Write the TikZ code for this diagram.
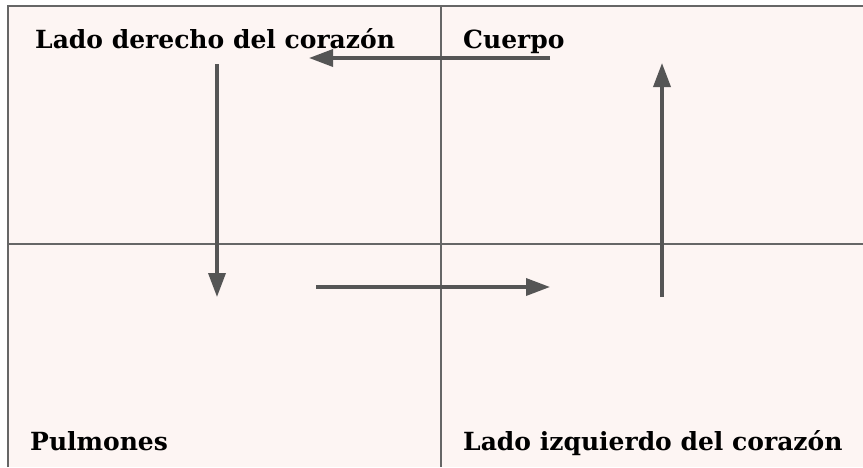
\documentclass[tikz,border=0pt]{standalone}
\usepackage{fontspec}
\setmainfont{DejaVu Serif}
\usetikzlibrary{arrows.meta}
\definecolor{bgpink}{HTML}{FDF5F3}
\definecolor{gridgray}{HTML}{666666}
\definecolor{arrowgray}{HTML}{555555}
\tikzset{
  label/.style={anchor=base west, inner sep=0pt, font=\fontsize{25}{29}\selectfont\bfseries, text=black},
  flow/.style={draw=arrowgray, line width=3.5pt, -{Triangle[length=24pt,width=17pt]}},
  divider/.style={draw=gridgray, line width=1.1pt},
  border/.style={draw=gridgray, line width=1.5pt}
}
\begin{document}
\begin{tikzpicture}[x=1pt,y=-1pt]
\useasboundingbox (0,0) rectangle (863,467);
\fill[bgpink] (8,6) rectangle (863,467);
\draw[border] (8,467) -- (8,6) -- (863,6);
\draw[divider] (441,6) -- (441,467);
\draw[divider, line width=1.6pt] (8,244) -- (863,244);
\node[label] (ld) at (35,48) {Lado derecho del corazón};
\node[label] (cu) at (463,48) {Cuerpo};
\node[label] (pu) at (30,450) {Pulmones};
\node[label] (li) at (463,450) {Lado izquierdo del corazón};
\coordinate (a1s) at (217,64);
\coordinate (a1e) at (217,297);
\coordinate (a2s) at (316,287);
\coordinate (a2e) at (550,287);
\coordinate (a3s) at (662,297);
\coordinate (a3e) at (662,63);
\coordinate (a4s) at (550,58);
\coordinate (a4e) at (309,58);
\draw[flow] (a1s) -- (a1e);
\draw[flow] (a2s) -- (a2e);
\draw[flow] (a3s) -- (a3e);
\draw[flow] (a4s) -- (a4e);
\end{tikzpicture}
\end{document}
